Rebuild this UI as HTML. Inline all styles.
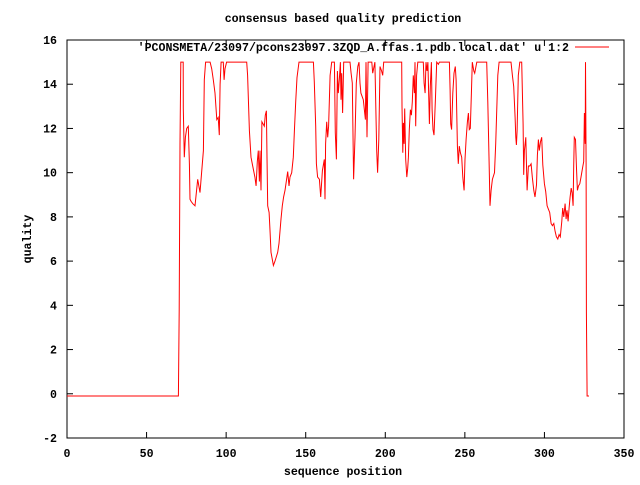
<!DOCTYPE html>
<html><head><meta charset="utf-8"><style>
body{margin:0;background:#fff}
svg text{font-family:"Liberation Mono",monospace;font-size:11.6px;font-weight:bold;fill:#000}
</style></head><body>
<svg id="chart" width="640" height="480" xmlns="http://www.w3.org/2000/svg">
<rect width="640" height="480" fill="#fff"/>
<text x="343" y="22" text-anchor="middle">consensus based quality prediction</text>
<text x="343" y="475" text-anchor="middle">sequence position</text>
<text x="31" y="239" text-anchor="middle" transform="rotate(-90 31 239)">quality</text>
<g id="axes"></g>
<text x="569" y="51" text-anchor="end">'PCONSMETA/23097/pcons23097.3ZQD_A.ffas.1.pdb.local.dat' u 1:2</text>
<line x1="575" y1="47" x2="609" y2="47" stroke="#f00" stroke-width="1"/>
<path id="series" fill="none" stroke="#f00" stroke-width="1"/>
</svg>
<script>
const xTicks=[0,50,100,150,200,250,300,350];
const yTicks=[-2,0,2,4,6,8,10,12,14,16];
const positions=[0,70,70.5,71,71.5,73,73.1,73.7,74.4,75.2,76.2,76.9,77.3,78,79,80.4,82.1,83.6,84.6,85.7,86.3,87.1,89.9,90.9,91.9,93,94.1,95,95.7,96.2,96.8,98.2,98.7,99.3,100.3,112.9,113.5,114.6,115.6,116.7,118.1,118.8,119.6,120.2,120.9,121.3,121.9,122.5,124,124.6,125.3,125.7,126.1,127,127.6,128.2,129.7,130.7,132.4,133.2,134.5,135.3,136.1,137,138,138.7,139.5,140.1,141.2,142.2,142.9,143.7,144.5,145.8,154.8,155.4,156.3,156.7,157.5,158.6,159.4,160.5,161.7,162.1,162.5,163.2,163.8,164.4,165.3,166.3,168,168.6,169.3,169.9,170.5,171.1,171.8,172.2,172.6,173.2,173.9,177.8,178.5,179.3,180.1,181,181.8,182.7,183.5,184.1,184.7,186.2,187.5,187.9,188.5,189.2,191.5,192.1,193.5,194.6,195.2,195.9,196.7,197.7,198.4,199,210.3,210.5,211,211.4,211.8,212.2,212.8,213.5,214.1,214.5,215.1,215.8,216.4,217,217.6,218.3,218.7,219.1,219.7,220.4,223.9,224.4,225,225.6,226.2,226.8,227.7,228.3,229,229.4,230,230.6,231.5,232.3,233.4,234,240.3,240.7,241.1,241.7,242.4,243.2,244,244.5,245.3,245.9,246.5,247.2,248,248.7,249.5,250.1,250.8,251.6,252.2,252.8,253.4,254.1,254.7,255.6,256.2,257.5,263.7,264.4,265.2,265.8,266.5,267.3,268.6,269.4,270.2,270.7,271.5,279,279.9,280.7,281.6,282,282.4,282.8,283.6,284.5,285.7,286.6,287,287.4,288.3,289.1,289.9,290.8,291.6,292.4,293.3,294.1,295,295.6,296.2,296.8,297.5,298.3,299,300,300.8,301.7,302.5,303.3,304.2,305,305.9,306.7,307.5,308.4,309.2,310,310.9,311.5,312.2,313,313.6,314.2,314.9,315.5,316.1,316.8,317.4,318,318.4,318.8,319.5,320.1,320.7,321.4,322.2,323,323.9,324.7,325.1,325.6,325.8,326.2,326.4,326.8,328];
const quality=[-0.1,-0.1,3.8,11.3,15,15,12.9,10.7,11.6,12.0,12.1,10.4,8.8,8.7,8.6,8.5,9.7,9.1,10,11,14.2,15,15,14.7,14.2,13.6,12.4,12.5,11.7,14,15,15,14.2,14.7,15,15,14.4,11.9,10.7,10.3,9.8,9.4,10.5,11,9.6,11,9.2,12.3,12.1,12.6,12.8,10.7,8.5,8.2,7.3,6.4,5.8,6.0,6.4,6.8,7.9,8.5,8.9,9.2,9.7,10.05,9.4,9.8,10,10.7,11.9,13.2,14.3,15,15,14.1,12.1,10.4,9.8,9.7,8.9,10.1,10.6,8.8,11.3,12.3,11.6,12.1,14.4,15,15,11.8,10.6,14.6,13.6,14.2,15,13.3,14.5,12.7,15,15,14.5,14.05,9.7,11.6,14.05,14.8,15,14.05,13.6,13.3,12.4,15,11.6,15,15,14.5,15,11.0,10.0,11.5,14.8,14.6,14.4,15,15,13.0,10.9,12.25,11.3,12.9,10.6,9.8,10.2,10.7,11.95,12.85,12.6,13.2,14.4,13.6,15,12.1,14.4,15,15,14.05,13.6,15,14.6,15,12.2,13.9,15,12.85,11.95,11.7,13.3,15,14.9,15,15,13.75,12.2,11.95,13.6,14.5,14.8,14.2,11.2,10.4,11.2,10.9,10.7,9.8,9.2,10.6,11.5,12.3,12.7,11.95,12.0,13.6,15,14.6,14.5,15,15,13.2,10.7,8.5,9.2,9.7,10,11.3,13.2,14.4,15,15,14.4,13.9,12.5,11.6,11.25,11.9,14.4,15,15,12.2,9.9,11,11.6,9.2,10.3,10.3,10.4,9.8,9.2,8.9,9.45,10.8,11.5,11.0,11.4,11.6,10.35,9.5,9.15,8.5,8.35,8.2,7.7,7.6,7.7,7.35,7.1,7.0,7.2,7.1,7.8,8.4,8.0,8.6,7.9,8.3,7.8,8.4,8.9,9.3,9.1,8.5,10.3,11.6,11.5,10.3,9.2,9.4,9.5,9.8,10.2,10.5,12.7,11.3,15,10.4,3.7,-0.1,-0.1];
const L=67,R=624,T=40,B=438;
const xs=v=>L+(v-0)/(350-0)*(R-L);
const ys=v=>B-(v+2)/(16+2)*(B-T);
const ns="http://www.w3.org/2000/svg";
const axes=document.getElementById('axes');
function mk(tag,attrs){const e=document.createElementNS(ns,tag);for(const k in attrs)e.setAttribute(k,attrs[k]);axes.appendChild(e);return e;}
const frame=mk('rect',{x:L,y:T,width:R-L,height:B-T,fill:'none',stroke:'#000','stroke-width':1});


xTicks.forEach(t=>{const x=xs(t);
 mk('line',{x1:x,y1:B,x2:x,y2:B-6,stroke:'#000'});
 mk('line',{x1:x,y1:T,x2:x,y2:T+6,stroke:'#000'});
 const lb=mk('text',{x:x,y:B+19,'text-anchor':'middle'});lb.textContent=t;
 
 
});
yTicks.forEach(t=>{const y=ys(t);
 mk('line',{x1:L,y1:y,x2:L+6,y2:y,stroke:'#000'});
 mk('line',{x1:R,y1:y,x2:R-6,y2:y,stroke:'#000'});
 const lb=mk('text',{x:57,y:y+4,'text-anchor':'end'});lb.textContent=t;
 
 
});
let d='';positions.forEach((p,i)=>{d+=(i?'L':'M')+xs(p).toFixed(1)+' '+ys(quality[i]).toFixed(1);});
document.getElementById('series').setAttribute('d',d);
</script>
</body></html>
